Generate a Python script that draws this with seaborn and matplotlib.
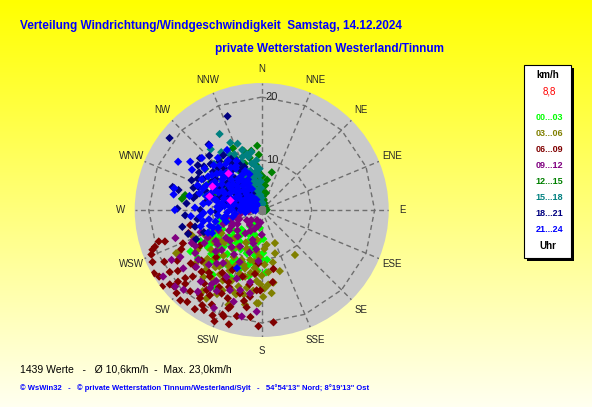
import numpy as np
import pandas as pd
import matplotlib
matplotlib.use("Agg")
import matplotlib.pyplot as plt
import matplotlib.transforms as mtrans
from matplotlib.colors import LinearSegmentedColormap
from matplotlib.patches import Rectangle
import seaborn as sns


# hour groups (legend) and their colours
hour_bins = ["00...03", "03...06", "06...09", "09...12",
             "12...15", "15...18", "18...21", "21...24"]
bin_colors = ["#00FF00", "#808000", "#800000", "#800080",
              "#008000", "#008080", "#000080", "#0000FF"]

# (direction in degrees, speed in km/h)
pts_00_03 = [
    (215, 4.6), (186, 6.8), (180, 9.8), (188.5, 9.3), (238.8, 10.8), (219.3, 13.5),
    (213.7, 16.5), (250, 7.2), (258.7, 8.6), (215.3, 9.8), (201, 10.9), (193.6, 11.1),
    (195, 5.7), (239, 9.8), (236.3, 11.7), (238.9, 13.9), (239.8, 15.3), (227.7, 14.0),
    (212, 16.6), (212.5, 12.5), (206.6, 11.0), (199, 9.3), (190, 7.9), (182, 9.6),
    (223.6, 9.3), (214.4, 8.0), (222.8, 12.3), (174, 10.0), (178, 8.8), (212, 4.4),
    (203, 7.2), (208, 9.1), (196, 8.4), (184, 11.8), (191, 12.9), (198, 13.4),
    (205, 13.9), (218, 11.0), (226, 10.5), (231, 8.6), (244, 8.9), (247, 11.2),
    (229, 12.8), (233, 14.9), (220, 7.0), (226, 6.1), (234, 7.4), (208, 6.0),
    (200, 3.6), (222, 3.8), (186, 4.2), (177, 6.3), (176, 12.1), (243, 13.1), (217, 15.1),
    (193, 7.0), (204, 5.3), (210, 11.8), (216, 12.9), (224, 13.6), (230, 11.1),
    (235, 12.6), (241, 11.8), (245, 10.2), (252, 9.0), (228, 8.0), (217, 8.5),
    (189, 10.5), (200, 12.0), (207, 14.6),
]
pts_03_06 = [
    (158.2, 7.5), (162.9, 9.2), (143.5, 11.0), (163.5, 12.3), (170.8, 13.9), (174, 12.1),
    (173.2, 15.5), (182, 17.0), (190.8, 14.8), (196.9, 14.9), (199.3, 18.1), (186.8, 8.6),
    (243.2, 17.4), (242.7, 11.4), (183, 17.0), (175, 14.1), (212, 18.7), (243, 17.0),
    (198.5, 18.0), (180, 12.6), (184, 13.5), (187, 11.4), (190, 12.3), (193, 10.2),
    (196, 11.8), (199, 12.9), (202, 10.6), (205, 11.9), (208, 13.1), (211, 10.8),
    (214, 12.2), (217, 13.4), (220, 11.6), (224, 12.9), (228, 13.8), (232, 12.4),
    (236, 11.2), (209, 15.0), (203, 14.4), (197, 16.2), (192, 15.9), (186, 15.1),
    (178, 14.7), (215, 15.7), (221, 16.3), (226, 14.6), (231, 15.8), (238, 14.3),
    (201, 8.5), (206, 7.6), (212, 8.9), (218, 9.7), (224, 8.1), (229, 9.9),
    (195, 7.1), (189, 6.5), (183, 9.5), (177, 10.8), (176, 8.1), (168, 10.6),
    (172, 7.4), (234, 10.6), (240, 9.4), (246, 12.0), (250, 14.0), (208, 17.3), (216, 18.1),
    (188, 10.4), (194, 13.1), (200, 15.8), (206, 16.4), (213, 14.4), (219, 13.9),
    (223, 15.2), (210, 12.5), (204, 12.3), (198, 11.3), (185, 12.0), (181, 14.0),
    (179, 16.0), (190, 17.4), (227, 11.8), (232, 10.2),
]
pts_06_09 = [
    (258, 13.8), (252.5, 14.4), (253, 19.2), (252, 18.3), (250, 20.5), (248, 20.9),
    (251, 20.0), (244.5, 21.2), (239.5, 21.8), (232.4, 21.9), (236, 19.7), (229, 20.5),
    (229.4, 19.6), (224.2, 15.9), (214.5, 17.6), (211.3, 18.0), (205.6, 16.9), (204.9, 14.8),
    (198, 18.3), (199.7, 20.0), (207.8, 19.1), (214, 21.0), (215, 19.2), (221.3, 19.3),
    (225.7, 20.9), (228.3, 18.4), (229.6, 16.1), (230, 14.7), (194.6, 15.9), (187.7, 16.1),
    (183.6, 15.0), (188.8, 17.8), (193.2, 19.4), (181.6, 20.5), (168.8, 11.7), (171.3, 13.8),
    (183.5, 10.6), (181, 15.0), (189.4, 14.2), (174, 20.0), (191, 16.9), (198.7, 18.6),
    (200.5, 19.8), (224, 12.6), (203, 15.5), (209, 16.2), (218, 17.0), (212, 14.0),
    (220, 15.2), (226, 17.4), (216, 18.8), (206, 12.8), (201, 17.2), (196, 13.2),
    (186, 12.4), (233, 16.3), (239, 17.8), (244, 16.4), (210, 20.4), (219, 20.8),
    (203, 21.2), (240, 13.5), (247, 15.8),
    (222, 21.3), (231, 20.8), (242, 19.6), (237, 21.4), (226, 19.0), (212, 19.9),
    (205, 20.5), (196, 20.9), (186, 19.2), (218, 15.6), (208, 14.6), (234, 18.6),
]
pts_09_12 = [
    (244.7, 14.5), (246, 14.0), (241.6, 14.2), (240, 17.1), (233.3, 17.7), (241, 18.5),
    (236, 20.9), (228.5, 20.4), (224.4, 19.8), (220.4, 17.1), (220, 13.3), (207.7, 14.2),
    (200, 13.8), (189, 13.8), (195, 15.4), (225, 11.1), (210.6, 8.7), (194, 7.3),
    (213.4, 17.0), (190.6, 19.3), (182.8, 18.3), (206, 19.4), (180, 5.5), (183.7, 10.2),
    (201.6, 15.9), (212.7, 15.6), (214, 16.4), (250, 8.4), (245, 9.6), (238, 8.0),
    (232, 9.2), (255, 6.5), (248, 5.4), (240, 6.1), (230, 6.8), (222, 7.5),
    (215, 6.2), (208, 5.3), (200, 4.6), (193, 3.9), (186, 3.1), (235, 4.2),
    (226, 3.5), (218, 4.4), (260, 4.9), (264, 3.2), (205, 2.8), (197, 6.7),
    (212, 10.4), (228, 12.0), (236, 10.9), (219, 9.6), (203, 11.1), (196, 9.0),
    (188, 8.2), (243, 11.8), (250, 12.5), (232, 15.0), (216, 12.6),
    (242, 7.2), (247, 7.0), (253, 5.8), (257, 7.7), (226, 9.0), (232, 11.0),
    (240, 12.7), (237, 14.8), (229, 16.0), (224, 14.3), (218, 18.6), (209, 16.9),
    (197, 17.4), (188, 15.6), (252, 16.6),
]
pts_12_15 = [
    (322, 12.8), (306, 13.3), (333, 11.4), (353, 9.2), (355, 8.0), (342, 5.2),
    (15, 8.1), (278, 15.0), (281, 14.6), (347, 4.9), (340, 9.9), (345, 7.8),
    (350, 6.6), (357, 5.8), (2, 4.4), (6, 3.4), (12, 2.6), (20, 2.0),
    (35, 1.5), (60, 1.3), (85, 1.4), (100, 1.2), (5, 1.1), (326, 10.1),
    (331, 8.8), (336, 7.2), (339, 6.0), (344, 3.9), (352, 3.1), (358, 2.5),
    (349, 1.8), (320, 7.5), (315, 9.6), (311, 11.2), (328, 5.9), (334, 4.6),
    (341, 3.3), (318, 5.1), (310, 6.8), (303, 8.8), (298, 11.4), (292, 12.0),
    (287, 9.8), (300, 5.6), (327, 3.2), (357, 10.9), (350, 11.7), (343, 12.0),
    (1, 7.2), (8, 5.5), (14, 4.1),
    (347, 10.6), (338, 8.2), (330, 11.8), (324, 11.6), (352, 5.0), (359, 3.7),
    (3, 5.7), (10, 6.6), (356, 12.4), (335, 13.0),
]
pts_15_18 = [
    (331, 16.0), (320, 14.8), (330, 12.5), (346, 10.8), (338, 9.1), (325, 13.4),
    (335, 14.0), (342, 12.2), (350, 11.5), (327, 11.0), (340, 11.1), (348, 9.6),
    (354, 10.0), (322, 10.2), (329, 9.5), (333, 8.9), (344, 8.4), (351, 8.0),
    (356, 7.3), (318, 9.2), (324, 8.0), (336, 7.5), (341, 6.9), (347, 6.6),
    (353, 5.9), (358, 5.0), (316, 7.1), (321, 6.3), (327, 5.7), (332, 6.2),
    (338, 5.3), (343, 4.8), (349, 4.4), (355, 3.6), (359, 3.0), (312, 5.4),
    (318, 4.6), (325, 4.1), (331, 3.5), (337, 3.1), (345, 2.6), (352, 2.3),
    (3, 2.0), (8, 1.6), (306, 9.8), (310, 11.6), (314, 12.7), (302, 8.6),
    (296, 10.9), (290, 9.1), (286, 11.8),
    (340, 13.4), (334, 12.0), (345, 11.3), (337, 10.4), (352, 9.0), (357, 8.5),
    (349, 7.4), (343, 5.8), (358, 6.2), (354, 4.8),
]
pts_18_21 = [
    (340, 18.0), (308, 20.6), (321, 15.6), (310, 15.0), (284.5, 16.8), (283.5, 15.8),
    (271, 15.6), (258, 15.1), (252, 14.5), (288, 13.6), (293, 14.3), (298, 12.7),
    (301, 13.8), (305, 14.6), (312, 13.1), (316, 14.2), (319, 12.4), (325, 12.8),
    (329, 11.6), (334, 10.2), (338, 9.4), (279, 11.0), (284, 10.1), (289, 11.6),
    (295, 10.4), (300, 11.2), (304, 10.9), (308, 12.0), (313, 10.6), (318, 11.1),
    (322, 9.9), (327, 10.8), (332, 9.1), (276, 8.3), (282, 7.6), (287, 9.0),
    (293, 7.9), (297, 9.7), (301, 8.2), (306, 7.7), (310, 8.9), (315, 7.4),
    (320, 8.5), (325, 7.2), (331, 6.8), (273, 5.6), (279, 6.2), (284, 5.3),
    (291, 5.8), (296, 5.1), (301, 6.4), (307, 5.5), (312, 6.0), (317, 4.9),
    (324, 5.0), (330, 4.4), (262, 12.5), (256, 13.1), (249, 12.0), (246, 13.6),
    (266, 14.4), (275, 14.2),
    (283, 12.8), (290, 12.9), (296, 13.5), (307, 13.7), (314, 11.8), (291, 8.7),
    (303, 9.3), (316, 9.2), (280, 13.2), (270, 11.9), (268, 9.2),
]
pts_21_24 = [
    (300, 17.5), (304, 15.9), (284, 16.5), (280, 16.4), (270, 16.0), (265, 13.5),
    (255, 12.2), (330, 13.2), (326, 11.7), (321, 15.4), (311, 14.8), (300, 15.0),
    (272, 12.8), (276, 11.5), (281, 13.9), (285, 12.4), (288, 10.6), (291, 13.1),
    (294, 11.8), (297, 12.9), (302, 12.2), (306, 13.4), (309, 11.3), (313, 12.6),
    (317, 11.9), (320, 13.0), (324, 10.4), (328, 9.8), (333, 10.9), (337, 8.7),
    (341, 7.9), (268, 10.2), (274, 9.1), (279, 8.4), (283, 9.7),
    (287, 8.2), (292, 9.4), (296, 8.9), (299, 10.3), (303, 9.6), (307, 8.5),
    (311, 9.9), (315, 8.8), (319, 9.5), (323, 8.1), (327, 7.6), (331, 8.3),
    (336, 7.1), (266, 7.3), (271, 6.5), (277, 7.0),
    (282, 6.1), (286, 7.4), (290, 6.8), (295, 6.2), (298, 7.5), (302, 5.9),
    (306, 6.9), (310, 6.3), (314, 7.2), (318, 5.8), (322, 6.6), (326, 5.4),
    (330, 6.0), (335, 5.2), (269, 4.8), (274, 4.3),
    (280, 5.0), (285, 4.4), (289, 3.8), (294, 4.7), (299, 3.9), (304, 4.5),
    (309, 3.7), (313, 4.2), (318, 3.6), (323, 4.0), (328, 3.3), (333, 2.9),
    (262, 5.9), (258, 8.1),
    (260, 10.6), (263, 9.0), (257, 6.4), (252, 7.8), (248, 9.5), (247, 11.4),
    (245, 10.8), (203, 12.2),
    (275, 3.1), (283, 2.7), (292, 2.4), (301, 2.9), (311, 2.5), (320, 2.1),
    (290, 1.5), (310, 1.3), (270, 2.2), (265, 1.7), (278, 10.6),
    (284, 11.2), (290, 12.1), (297, 11.1), (305, 11.8), (312, 10.9), (316, 10.3),
    (322, 11.4), (330, 10.2), (293, 10.1), (301, 10.8), (308, 10.0), (287, 6.3),
    (297, 5.4), (305, 7.8), (316, 5.0), (321, 7.7), (329, 7.0), (334, 6.4),
    (312, 8.0), (294, 8.3), (281, 9.2), (276, 7.8), (271, 8.7), (267, 11.4),
    (264, 12.0), (261, 7.6), (256, 9.6), (253, 10.7), (259, 11.6), (250, 10.3),
    (268, 3.6), (262, 3.9),
]
# a few magenta points
pts_extra = [(318, 10.0), (296, 10.9), (287.5, 7.1), (285, 10.8)]

all_groups = [pts_00_03, pts_03_06, pts_06_09, pts_09_12,
              pts_12_15, pts_15_18, pts_18_21, pts_21_24]

compass = ["N", "NNE", "NE", "ENE", "E", "ESE", "SE", "SSE",
           "S", "SSW", "SW", "WSW", "W", "WNW", "NW", "NNW"]
ring_values = [10, 20]
speed_max = 22.1

n_values = 1439
mean_speed = "10,6"
max_speed = "23,0"
current_speed = "8,8"


# the station software stretches the radial axis a little (10 and 20 km/h rings
# are not evenly spaced), so the radius is drawn as speed ** 1.176
def radial(v):
    return np.power(np.asarray(v, dtype=float), 1.176)


rows = []
for label, pts in zip(hour_bins, all_groups):
    for d, v in pts:
        rows.append({"theta": np.deg2rad(d), "speed": v, "hour": label})
df = pd.DataFrame(rows)
df["r"] = radial(df["speed"])

extra = pd.DataFrame({
    "theta": np.deg2rad([p[0] for p in pts_extra]),
    "speed": [p[1] for p in pts_extra],
})
extra["r"] = radial(extra["speed"])


sns.set_theme(style="white")
plt.rcParams["font.family"] = ["Liberation Sans", "DejaVu Sans"]

W, H = 592, 407
fig = plt.figure(figsize=(W / 100, H / 100), dpi=100)


def fx(x):
    return x / W


def fy(y):
    return 1 - y / H


# yellow gradient background
bg = fig.add_axes([0, 0, 1, 1], zorder=-10)
grad = np.linspace(0, 1, 256).reshape(-1, 1)
bg_cmap = LinearSegmentedColormap.from_list("bg", ["#FFFF00", "#FFFFF0"])
bg.imshow(grad, aspect="auto", cmap=bg_cmap, extent=[0, 1, 0, 1], origin="upper")
bg.axis("off")

cx, cy, R = 261.7, 210, 127
ax = fig.add_axes([fx(cx - R), fy(cy + R), 2 * R / W, 2 * R / H], projection="polar")
ax.set_facecolor("#CACACA")
ax.set_theta_zero_location("N")
ax.set_theta_direction(-1)

sns.scatterplot(
    data=df, x="theta", y="r", hue="hour",
    hue_order=hour_bins, palette=dict(zip(hour_bins, bin_colors)),
    marker="D", s=18, linewidth=0, legend=False, ax=ax, zorder=3
)
sns.scatterplot(
    data=extra, x="theta", y="r", color="#FF00FF",
    marker="D", s=18, linewidth=0, legend=False, ax=ax, zorder=4
)

grid_color = "#6E6E6E"
dirs = np.deg2rad(np.arange(16) * 22.5)
ring_theta = np.append(dirs, dirs[0])
for rv in ring_values:
    ax.plot(ring_theta, [radial(rv)] * len(ring_theta), color=grid_color,
            lw=1.0, ls=(0, (3.5, 2.5)), zorder=2)
    ax.text(0, radial(rv), str(rv), fontsize=8, ha="left", va="center",
            transform=mtrans.offset_copy(ax.transData, x=4, y=0, units="dots"), zorder=5)

ax.plot([0], [0], marker="s", ms=4, color="#7A7A7A", zorder=5)

ax.set_ylim(0, radial(speed_max))
ax.set_yticks([])
ax.set_xticks(dirs)
ax.set_xticklabels(compass, fontsize=7)
ax.tick_params(axis="x", pad=-3)
ax.xaxis.grid(True, color=grid_color, lw=1.0, ls=(0, (3.5, 2.5)))
ax.spines["polar"].set_visible(False)
ax.set_xlabel("")
ax.set_ylabel("")

# titles
fig.text(fx(20), fy(26), "Verteilung Windrichtung/Windgeschwindigkeit  Samstag, 14.12.2024",
         color="#0000FF", fontsize=8.5, fontweight="bold", ha="left", va="center")
fig.text(fx(215), fy(49), "private Wetterstation Westerland/Tinnum",
         color="#0000FF", fontsize=8.5, fontweight="bold", ha="left", va="center")

# legend box
bx0, by0, bx1, by1 = 524, 65, 571, 258
fig.add_artist(Rectangle((fx(bx0 + 3), fy(by1 + 3)), (bx1 - bx0) / W, (by1 - by0) / H,
                         transform=fig.transFigure, facecolor="black", edgecolor="none", zorder=5))
fig.add_artist(Rectangle((fx(bx0), fy(by1)), (bx1 - bx0) / W, (by1 - by0) / H,
                         transform=fig.transFigure, facecolor="white", edgecolor="black",
                         lw=0.8, zorder=6))
lx = 547.5
fig.text(fx(lx), fy(75), "km/h", fontsize=7, fontweight="bold", color="black",
         ha="center", va="center", zorder=7)
fig.text(fx(lx + 2), fy(92), current_speed, fontsize=7, color="#FF0000",
         ha="center", va="center", zorder=7)
leg_y = [118, 134, 150, 166, 182, 198, 214, 230]
for lab, col, yy in zip(hour_bins, bin_colors, leg_y):
    fig.text(fx(lx + 2), fy(yy), lab, fontsize=6.5, fontweight="bold", color=col,
             ha="center", va="center", zorder=7)
fig.text(fx(lx), fy(246), "Uhr", fontsize=7, fontweight="bold", color="black",
         ha="center", va="center", zorder=7)

# footer
fig.text(fx(20), fy(369.5),
         f"{n_values} Werte   -   Ø {mean_speed}km/h  -  Max. {max_speed}km/h",
         fontsize=7.5, color="black", ha="left", va="center")
fig.text(fx(20), fy(388),
         "© WsWin32   -   © private Wetterstation Tinnum/Westerland/Sylt   -   "
         "54°54'13\" Nord; 8°19'13\" Ost",
         fontsize=5.5, fontweight="bold", color="#0000FF", ha="left", va="center")

fig.savefig("out.png", dpi=100)
